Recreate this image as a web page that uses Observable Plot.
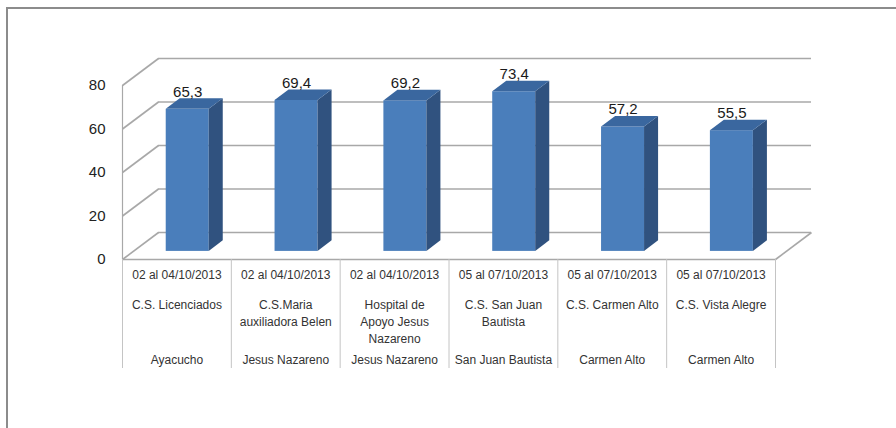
<!DOCTYPE html>
<html>
<head>
<meta charset="utf-8">
<script src="https://cdn.jsdelivr.net/npm/d3@7"></script>
<script src="https://cdn.jsdelivr.net/npm/@observablehq/plot@0.6"></script>
<style>
  html, body { margin: 0; padding: 0; background: #fff; }
  #wrap { position: relative; width: 896px; height: 428px; overflow: hidden; background: #fff; }
  #border { position: absolute; left: 6px; top: 7px; right: -10px; bottom: -10px;
            border-top: 2px solid #8c8c8c; border-left: 2px solid #8c8c8c; }
  #chart { position: absolute; left: 0; top: 0; }
</style>
</head>
<body>
<div id="wrap"><div id="border"></div><div id="chart"></div></div>
<script>
// ---- data ----
const fechas = ["02 al 04/10/2013", "02 al 04/10/2013", "02 al 04/10/2013",
                "05 al 07/10/2013", "05 al 07/10/2013", "05 al 07/10/2013"];
const establecimientos = ["C.S. Licenciados", "C.S.Maria\nauxiliadora Belen", "Hospital de\nApoyo Jesus\nNazareno",
                          "C.S. San Juan\nBautista", "C.S. Carmen Alto", "C.S. Vista Alegre"];
const microredes = ["Ayacucho", "Jesus Nazareno", "Jesus Nazareno", "San Juan Bautista", "Carmen Alto", "Carmen Alto"];
const valores = [65.3, 69.4, 69.2, 73.4, 57.2, 55.5];
const yTicks = [0, 20, 40, 60, 80];

// ---- layout / 3D depth (in scale units) ----
const W = 896, H = 428;
const mL = 122, mR = 121, mT = 85, mB = 169;
const n = valores.length;
const pxPerX = (W - mL - mR) / n;
const pxPerY = (H - mT - mB) / 80;
const dxU = 36 / pxPerX;     // full depth of the floor (x units)
const dyU = 27 / pxPerY;     // full depth of the floor (y units)
const bw = 0.395;            // bar width in category units
const f1 = 0.3, f2 = 0.69;   // front/back depth of the bars

const idx = d3.range(n);
const bars = idx.map(i => {
  const v = valores[i];
  const xl = i + 0.5 - bw / 2 + f1 * dxU, xr = xl + bw;
  const dd = (f2 - f1) * dxU, dh = (f2 - f1) * dyU;
  return {i, v, xl, xr, yb: f1 * dyU, yt: v + f1 * dyU, dd, dh};
});
const sideFaces = bars.flatMap(b => [
  {z: b.i, x: b.xr, y1: b.yb, y2: b.yt},
  {z: b.i, x: b.xr + b.dd, y1: b.yb + b.dh, y2: b.yt + b.dh}
]);
const topFaces = bars.flatMap(b => [
  {z: b.i, y: b.yt, x1: b.xl, x2: b.xr},
  {z: b.i, y: b.yt + b.dh, x1: b.xl + b.dd, x2: b.xr + b.dd}
]);

const grid = "#a8a8a8";
const font = "'Liberation Sans', Arial, sans-serif";

const plot = Plot.plot({
  width: W, height: H,
  marginLeft: mL, marginRight: mR, marginTop: mT, marginBottom: mB,
  style: {fontFamily: font, background: "transparent", overflow: "visible"},
  x: {type: "linear", domain: [0, n], axis: null},
  y: {domain: [0, 80], axis: null},
  marks: [
    // back wall gridlines
    Plot.ruleY(yTicks, {y: t => t + dyU, x1: dxU, x2: n + dxU, stroke: grid, strokeWidth: 1.6}),
    // left wall diagonals
    Plot.link(yTicks, {x1: 0, y1: t => t, x2: dxU, y2: t => t + dyU, stroke: grid, strokeWidth: 1.6}),
    // floor front & right edges
    Plot.ruleY([0], {x1: 0, x2: n, stroke: grid, strokeWidth: 1.6}),
    Plot.link([0], {x1: n, y1: 0, x2: n + dxU, y2: dyU, stroke: grid, strokeWidth: 1.6}),
    // y axis line
    Plot.ruleX([0], {y1: 0, y2: 80, stroke: grid, strokeWidth: 1.2}),
    // category separators (table)
    Plot.axisX({ticks: d3.range(n + 1), tickSize: 109, tickFormat: () => "", stroke: "#c4c4c4", strokeWidth: 1}),
    // y tick labels
    Plot.axisY({ticks: yTicks, tickSize: 0, tickPadding: 17, fontSize: 15, fill: "#222", label: null}),
    // 3D bars
    Plot.rectY(bars, {x1: "xl", x2: "xr", y1: "yb", y2: "yt", fill: "#4a7ebb"}),
    Plot.areaY(sideFaces, {x: "x", y1: "y1", y2: "y2", z: "z", fill: "#30527f", curve: "linear"}),
    Plot.areaX(topFaces, {y: "y", x1: "x1", x2: "x2", z: "z", fill: "#3a679f", curve: "linear"}),
    // value labels
    Plot.text(bars, {x: b => b.i + 0.5 + f1 * dxU, y: b => b.yt + b.dh, dy: -2, lineAnchor: "bottom",
      text: b => b.v.toFixed(1).replace(".", ","), fontSize: 15, fill: "#1a1a1a"}),
    // table rows
    Plot.text(idx, {x: i => i + 0.5, frameAnchor: "bottom", dy: 16, lineAnchor: "middle",
      text: i => fechas[i], fontSize: 12, fill: "#333"}),
    Plot.text(idx, {x: i => i + 0.5, frameAnchor: "bottom", dy: 38, lineAnchor: "top", lineHeight: 1.4,
      text: i => establecimientos[i], fontSize: 12, fill: "#333"}),
    Plot.text(idx, {x: i => i + 0.5, frameAnchor: "bottom", dy: 101, lineAnchor: "middle",
      text: i => microredes[i], fontSize: 12, fill: "#333"})
  ]
});
document.getElementById("chart").appendChild(plot);
</script>
</body>
</html>
